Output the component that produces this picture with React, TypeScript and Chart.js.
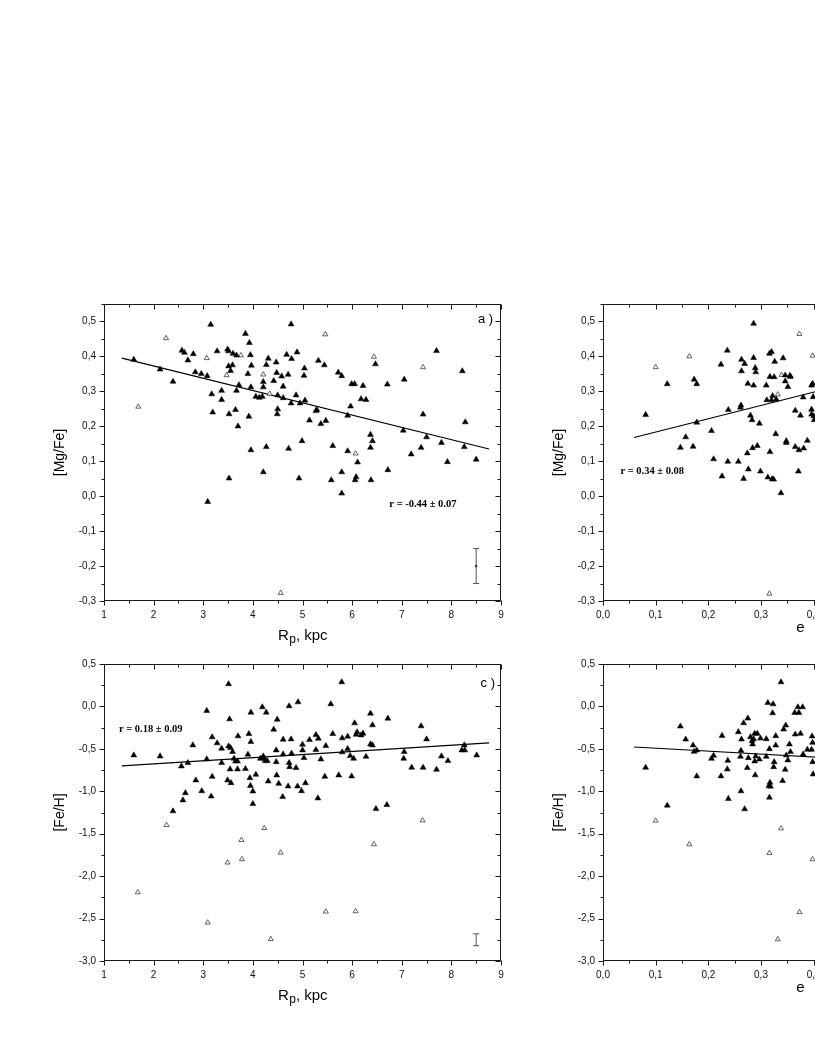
import React, { useEffect, useRef } from "react";
import { Chart, registerables } from "chart.js";

Chart.register(...registerables);

const SANS = '"Liberation Sans", Arial, Helvetica, sans-serif';
const SERIF = '"Liberation Serif", "Times New Roman", serif';

// ---------- Panel a: Rp (kpc) vs [Mg/Fe] ----------
const aFilled: number[][] = [
  [1.6, 0.391], [2.13, 0.363], [2.39, 0.328], [2.57, 0.417], [2.62, 0.411], [2.69, 0.389], [2.8, 0.407],
  [2.84, 0.355], [2.96, 0.35], [3.08, 0.344], [3.15, 0.491], [3.17, 0.292], [3.19, 0.24], [3.28, 0.415],
  [3.37, 0.302], [3.37, 0.276], [3.49, 0.42], [3.51, 0.415], [3.52, 0.235], [3.51, 0.372], [3.55, 0.359],
  [3.59, 0.375], [3.6, 0.408], [3.65, 0.247], [3.67, 0.403], [3.67, 0.302], [3.7, 0.2], [3.72, 0.318],
  [3.85, 0.465], [3.9, 0.35], [3.92, 0.228], [3.93, 0.439], [3.95, 0.404], [3.96, 0.132], [3.97, 0.374],
  [3.96, 0.312], [4.06, 0.285], [4.13, 0.282], [4.19, 0.285], [4.21, 0.312], [4.21, 0.327], [4.27, 0.141],
  [4.27, 0.376], [4.31, 0.394], [4.42, 0.33], [4.47, 0.383], [4.48, 0.353], [4.5, 0.289], [4.5, 0.249],
  [4.49, 0.235], [4.58, 0.343], [4.61, 0.314], [4.61, 0.281], [4.71, 0.348], [4.72, 0.136], [4.68, 0.405],
  [4.77, 0.492], [4.78, 0.393], [4.87, 0.289], [4.89, 0.412], [4.77, 0.266], [4.95, 0.266], [4.99, 0.158],
  [5.04, 0.366], [5.03, 0.345], [5.05, 0.274], [5.32, 0.388], [5.44, 0.375], [5.14, 0.217], [5.27, 0.244],
  [5.29, 0.247], [5.37, 0.207], [5.47, 0.216], [5.61, 0.144], [5.72, 0.354], [5.79, 0.344], [5.91, 0.231],
  [5.97, 0.257], [5.91, 0.129], [5.99, 0.321], [6.05, 0.321], [6.22, 0.316], [6.18, 0.278], [6.28, 0.276],
  [6.37, 0.176], [6.41, 0.158], [6.37, 0.139], [6.47, 0.378], [6.71, 0.32], [7.05, 0.334], [7.03, 0.188],
  [7.19, 0.12], [7.39, 0.139], [7.43, 0.234], [7.5, 0.169], [7.7, 0.416], [7.8, 0.153], [8.22, 0.358],
  [8.26, 0.141], [8.28, 0.212], [3.09, -0.016], [3.52, 0.051], [4.21, 0.069], [4.93, 0.051], [5.58, 0.046],
  [5.79, 0.069], [5.79, 0.008], [6.11, 0.097], [6.06, 0.046], [6.08, 0.055], [6.38, 0.046], [6.72, 0.075],
  [7.92, 0.098], [8.5, 0.105],
];
const aOpen: number[][] = [
  [1.69, 0.256], [2.25, 0.452], [3.07, 0.395], [3.47, 0.346], [3.76, 0.403], [4.21, 0.348], [4.34, 0.293],
  [5.46, 0.463], [6.44, 0.399], [7.43, 0.369], [6.07, 0.122], [4.56, -0.277],
];
const aFit: number[][] = [[1.36, 0.395], [8.76, 0.135]];
const aErr: number[] = [8.5, -0.2, 0.05];

// ---------- Panel b: e vs [Mg/Fe] ----------
const bFilled: number[][] = [
  [0.081, 0.233], [0.122, 0.321], [0.147, 0.139], [0.157, 0.169], [0.171, 0.142], [0.173, 0.334], [0.178, 0.321],
  [0.178, 0.211], [0.206, 0.187], [0.21, 0.106], [0.224, 0.377], [0.226, 0.057], [0.236, 0.417], [0.237, 0.099],
  [0.238, 0.247], [0.257, 0.099], [0.262, 0.26], [0.261, 0.254], [0.263, 0.391], [0.263, 0.358], [0.269, 0.379],
  [0.267, 0.05], [0.274, 0.123], [0.276, 0.077], [0.275, 0.322], [0.28, 0.231], [0.283, 0.218], [0.284, 0.138],
  [0.286, 0.396], [0.286, 0.317], [0.289, 0.367], [0.29, 0.355], [0.286, 0.494], [0.293, 0.144], [0.297, 0.208],
  [0.299, 0.071], [0.31, 0.317], [0.311, 0.275], [0.313, 0.054], [0.316, 0.408], [0.317, 0.127], [0.317, 0.342],
  [0.32, 0.275], [0.32, 0.413], [0.321, 0.049], [0.324, 0.048], [0.325, 0.341], [0.322, 0.287], [0.326, 0.385],
  [0.329, 0.277], [0.328, 0.178], [0.338, 0.009], [0.342, 0.395], [0.346, 0.346], [0.346, 0.329], [0.348, 0.153],
  [0.348, 0.158], [0.351, 0.313], [0.355, 0.345], [0.356, 0.342], [0.365, 0.245], [0.365, 0.141], [0.371, 0.071],
  [0.372, 0.132], [0.375, 0.231], [0.38, 0.283], [0.381, 0.137], [0.388, 0.159], [0.396, 0.248], [0.396, 0.234],
  [0.396, 0.317], [0.398, 0.322], [0.399, 0.284], [0.401, 0.218], [0.4, 0.229],
];
const bOpen: number[][] = [
  [0.1, 0.369], [0.164, 0.4], [0.316, -0.279], [0.339, 0.347], [0.332, 0.291], [0.373, 0.464], [0.398, 0.402],
];
const bFit: number[][] = [[0.059, 0.168], [0.7, 0.412]];

// ---------- Panel c: Rp (kpc) vs [Fe/H] ----------
const cFilled: number[][] = [
  [1.6, -0.575], [2.13, -0.587], [2.56, -0.705], [2.69, -0.665], [2.79, -0.457], [2.85, -0.87], [3.07, -0.051],
  [3.07, -0.622], [3.18, -0.362], [3.18, -0.827], [3.28, -0.433], [3.37, -0.496], [3.37, -0.665], [3.49, -0.87],
  [3.51, 0.264], [3.53, -0.15], [3.51, -0.469], [3.55, -0.488], [3.59, -0.535], [3.62, -0.614], [3.65, -0.646],
  [3.7, -0.35], [3.69, -0.646], [3.69, -0.74], [3.54, -0.74], [3.85, -0.736], [3.92, -0.323], [3.96, -0.417],
  [3.96, -0.071], [3.9, -0.567], [3.94, -0.843], [4.06, -0.803], [4.15, -0.614], [4.19, -0.008], [4.22, -0.614],
  [4.27, -0.071], [4.21, -0.587], [4.25, -0.642], [4.29, -0.642], [4.31, -0.882], [4.42, -0.272], [4.47, -0.516],
  [4.47, -0.654], [4.48, -0.811], [4.49, -0.154], [4.61, -0.39], [4.61, -0.563], [4.73, -0.665], [4.73, 0.004],
  [4.77, -0.386], [4.78, -0.555], [4.74, -0.713], [4.87, -0.724], [4.91, 0.051], [5.0, -0.449], [5.0, -0.516],
  [5.03, -0.606], [5.14, -0.394], [5.27, -0.335], [5.32, -0.378], [5.27, -0.512], [5.37, -0.622], [5.45, -0.827],
  [5.47, -0.465], [5.57, 0.028], [5.61, -0.323], [5.73, -0.811], [5.79, 0.287], [5.8, -0.374], [5.8, -0.539],
  [5.91, -0.354], [5.91, -0.5], [5.96, -0.583], [5.99, -0.823], [6.03, -0.614], [6.05, -0.197], [6.08, -0.331],
  [6.1, -0.303], [6.18, -0.339], [6.22, -0.319], [6.28, -0.591], [6.37, -0.083], [6.41, -0.22], [6.37, -0.445],
  [6.41, -0.457], [6.72, -0.142], [7.05, -0.535], [7.04, -0.614], [7.2, -0.72], [7.39, -0.232], [7.43, -0.72],
  [7.5, -0.386], [7.7, -0.744], [7.8, -0.587], [7.93, -0.642], [8.21, -0.516], [8.26, -0.457], [8.27, -0.516],
  [8.51, -0.575], [2.39, -1.234], [2.59, -1.105], [2.64, -1.02], [2.97, -0.996], [3.16, -1.059], [3.56, -0.902],
  [3.95, -0.934], [4.0, -1.0], [4.0, -1.148], [4.52, -0.91], [4.6, -1.066], [4.71, -0.941], [4.9, -0.941],
  [4.98, -0.996], [5.06, -0.902], [5.31, -1.082], [6.48, -1.207], [6.7, -1.16],
];
const cOpen: number[][] = [
  [2.26, -1.398], [1.68, -2.191], [3.09, -2.547], [3.49, -1.84], [3.77, -1.574], [3.78, -1.801], [4.23, -1.434],
  [4.36, -2.742], [4.56, -1.723], [5.47, -2.418], [6.07, -2.414], [6.44, -1.625], [7.42, -1.344],
];
const cFit: number[][] = [[1.36, -0.7], [8.76, -0.43]];
const cErr: number[] = [8.5, -2.75, 0.07];

// ---------- Panel d: e vs [Fe/H] ----------
const dFilled: number[][] = [
  [0.081, -0.72], [0.122, -1.167], [0.147, -0.235], [0.157, -0.388], [0.171, -0.458], [0.173, -0.532],
  [0.178, -0.517], [0.178, -0.822], [0.206, -0.615], [0.21, -0.58], [0.224, -0.822], [0.226, -0.345],
  [0.236, -0.74], [0.237, -0.638], [0.238, -1.088], [0.257, -0.301], [0.261, -0.591], [0.262, -0.521],
  [0.263, -0.388], [0.262, -0.998], [0.267, -0.196], [0.269, -1.21], [0.274, -0.724], [0.275, -0.141],
  [0.276, -0.607], [0.28, -0.36], [0.283, -0.407], [0.284, -0.446], [0.286, -0.384], [0.288, -0.321],
  [0.288, -0.646], [0.289, -0.81], [0.29, -0.587], [0.293, -0.321], [0.297, -0.623], [0.299, -0.376],
  [0.31, -0.384], [0.31, -0.591], [0.313, 0.043], [0.316, -0.501], [0.315, -0.936], [0.316, -1.073],
  [0.317, -0.897], [0.318, -0.944], [0.322, -0.078], [0.323, 0.027], [0.324, -0.713], [0.325, -0.654],
  [0.328, -0.458], [0.328, -0.348], [0.338, 0.286], [0.341, -0.877], [0.343, -0.27], [0.346, -0.744],
  [0.347, -0.223], [0.348, -0.576], [0.351, -0.634], [0.354, -0.446], [0.356, -0.536], [0.364, -0.074],
  [0.365, -0.329], [0.37, -0.008], [0.372, -0.074], [0.375, -0.321], [0.379, -0.008], [0.38, -0.564],
  [0.388, -0.509], [0.396, -0.509], [0.397, -0.352], [0.398, -0.654], [0.399, -0.799], [0.398, -0.427],
];
const dOpen: number[][] = [
  [0.1, -1.347], [0.164, -1.625], [0.316, -1.727], [0.338, -1.437], [0.332, -2.745], [0.373, -2.424],
  [0.398, -1.801],
];
const dFit: number[][] = [[0.059, -0.478], [0.7, -0.7]];

// ---------- tick / label definitions ----------
const rpRange = [1, 9, 0.5, 1, 0];       // min, max, step, major, decimals
const eRange = [0, 0.75, 0.05, 0.1, 1];
const mgfeRange = [-0.3, 0.55, 0.05, 0.1, 1];
const fehRange = [-3, 0.5, 0.25, 0.5, 1];

type Txt = { x: number; y: number; text: string; font: string; align: CanvasTextAlign };
type PanelDef = {
  left: number; top: number; width: number; height: number; xAxisH: number;
  xr: number[]; yr: number[];
  xTitle: "Rp" | "e"; yTitle: string;
  filled: number[][]; open: number[][]; fit: number[][];
  err?: number[]; errDot?: boolean;
  texts: Txt[];
};

const isMajor = (v: number, major: number) => Math.abs(v / major - Math.round(v / major)) < 1e-6;
const fmt = (v: number, major: number, digits: number) => {
  if (!isMajor(v, major)) return "";
  let r = Math.round(v / major) * major;
  if (Math.abs(r) < 1e-9) r = 0;
  return r.toFixed(digits).replace(".", ",");
};

const RFONT = `bold 10.5px ${SERIF}`;
const PFONT = `13px ${SANS}`;

const panels: PanelDef[] = [
  {
    left: 44, top: 290, width: 470, height: 375, xAxisH: 64,
    xr: rpRange, yr: mgfeRange, xTitle: "Rp", yTitle: "[Mg/Fe]",
    filled: aFilled, open: aOpen, fit: aFit, err: aErr, errDot: true,
    texts: [
      { x: 6.75, y: -0.024, text: "r = -0.44 \u00b1 0.07", font: RFONT, align: "left" },
      { x: 8.84, y: 0.506, text: "a )", font: PFONT, align: "right" },
    ],
  },
  {
    left: 543, top: 290, width: 468, height: 375, xAxisH: 64,
    xr: eRange, yr: mgfeRange, xTitle: "e", yTitle: "[Mg/Fe]",
    filled: bFilled, open: bOpen, fit: bFit,
    texts: [
      { x: 0.033, y: 0.07, text: "r = 0.34 \u00b1 0.08", font: RFONT, align: "left" },
      { x: 0.731, y: 0.506, text: "b )", font: PFONT, align: "right" },
    ],
  },
  {
    left: 44, top: 650, width: 470, height: 372, xAxisH: 61,
    xr: rpRange, yr: fehRange, xTitle: "Rp", yTitle: "[Fe/H]",
    filled: cFilled, open: cOpen, fit: cFit, err: cErr,
    texts: [
      { x: 1.3, y: -0.273, text: "r = 0.18 \u00b1 0.09", font: RFONT, align: "left" },
      { x: 8.88, y: 0.27, text: "c )", font: PFONT, align: "right" },
    ],
  },
  {
    left: 543, top: 650, width: 468, height: 372, xAxisH: 61,
    xr: eRange, yr: fehRange, xTitle: "e", yTitle: "[Fe/H]",
    filled: dFilled, open: dOpen, fit: dFit,
    texts: [{ x: 0.735, y: 0.27, text: "d )", font: PFONT, align: "right" }],
  },
];

const framePlugin = (d: PanelDef) => ({
  id: "frameDecor",
  afterDraw(chart: any) {
    const { ctx, chartArea } = chart;
    const { left, top, right, bottom } = chartArea;
    const xs = chart.scales.x;
    const ys = chart.scales.y;
    ctx.save();
    ctx.strokeStyle = "#1a1a1a";
    ctx.lineWidth = 1;
    const L = Math.round(left) + 0.5, R = Math.round(right) - 0.5;
    const T = Math.round(top) + 0.5, B = Math.round(bottom) - 0.5;
    ctx.strokeRect(L, T, R - L, B - T);
    ctx.beginPath();
    xs.ticks.forEach((t: any) => {
      const px = Math.round(xs.getPixelForValue(t.value)) + 0.5;
      const len = t.label ? 5 : 3;
      ctx.moveTo(px, B); ctx.lineTo(px, B + len);
      ctx.moveTo(px, T); ctx.lineTo(px, T + len);
    });
    ys.ticks.forEach((t: any) => {
      const py = Math.round(ys.getPixelForValue(t.value)) + 0.5;
      const len = t.label ? 5 : 3;
      ctx.moveTo(L, py); ctx.lineTo(L - len, py);
      ctx.moveTo(R, py); ctx.lineTo(R - len, py);
    });
    ctx.stroke();

    ctx.fillStyle = "#000";
    // y title
    ctx.save();
    ctx.translate(left - 44, (top + bottom) / 2);
    ctx.rotate(-Math.PI / 2);
    ctx.font = `14px ${SANS}`;
    ctx.textAlign = "center";
    ctx.textBaseline = "middle";
    ctx.fillText(d.yTitle, 0, 0);
    ctx.restore();

    // x title
    const cx = (left + right) / 2;
    ctx.textBaseline = "alphabetic";
    ctx.textAlign = "left";
    if (d.xTitle === "Rp") {
      const big = `15px ${SANS}`;
      const small = `12px ${SANS}`;
      const base = bottom + 39;
      ctx.font = big;
      const wR = ctx.measureText("R").width;
      const wRest = ctx.measureText(", kpc").width;
      ctx.font = small;
      const wp = ctx.measureText("p").width;
      let x = cx - (wR + wp + wRest) / 2;
      ctx.font = big; ctx.fillText("R", x, base); x += wR + 0.5;
      ctx.font = small; ctx.fillText("p", x, base + 3); x += wp;
      ctx.font = big; ctx.fillText(", kpc", x, base);
    } else {
      ctx.font = `15px ${SANS}`;
      ctx.textAlign = "center";
      ctx.fillText("e", cx, bottom + 31);
    }

    // annotations
    d.texts.forEach((t) => {
      ctx.font = t.font;
      ctx.textAlign = t.align;
      ctx.textBaseline = "middle";
      ctx.fillText(t.text, xs.getPixelForValue(t.x), ys.getPixelForValue(t.y));
    });
    ctx.restore();
  },
});

function Panel({ d }: { d: PanelDef }) {
  const ref = useRef<HTMLCanvasElement | null>(null);
  useEffect(() => {
    if (!ref.current) return;
    const pts = (a: number[][]) => a.map(([x, y]) => ({ x, y }));
    const datasets: any[] = [
      {
        data: pts(d.filled), pointStyle: "triangle", pointRadius: 3.4,
        pointBackgroundColor: "#000", pointBorderColor: "#000", pointBorderWidth: 0.5, showLine: false,
      },
      {
        data: pts(d.open), pointStyle: "triangle", pointRadius: 2.9,
        pointBackgroundColor: "#fff", pointBorderColor: "#222", pointBorderWidth: 0.7, showLine: false,
      },
      {
        data: pts(d.fit), showLine: true, borderColor: "#000", borderWidth: 1.2, pointRadius: 0,
      },
    ];
    if (d.err) {
      const [ex, ey, eh] = d.err;
      datasets.push({
        data: [{ x: ex, y: ey - eh }, { x: ex, y: ey + eh }], showLine: true,
        borderColor: "#555", borderWidth: 1, pointStyle: "line", pointRadius: 3,
        pointBorderColor: "#555", pointBorderWidth: 1,
      });
      if (d.errDot) {
        datasets.push({
          data: [{ x: ex, y: ey }], pointStyle: "circle", pointRadius: 1.2,
          pointBackgroundColor: "#000", pointBorderColor: "#000", pointBorderWidth: 0,
        });
      }
    }
    const [xmin, xmax, xstep, xmaj, xdig] = d.xr;
    const [ymin, ymax, ystep, ymaj, ydig] = d.yr;
    const chart = new Chart(ref.current, {
      type: "scatter",
      data: { datasets },
      options: {
        responsive: false,
        animation: false,
        events: [],
        layout: { padding: { left: 0, top: 12, right: 13, bottom: 0 } },
        plugins: { legend: { display: false }, tooltip: { enabled: false } },
        scales: {
          x: {
            type: "linear", position: "bottom", min: xmin, max: xmax,
            grid: { display: false, drawTicks: false }, border: { display: false },
            ticks: {
              stepSize: xstep, autoSkip: false, maxRotation: 0, padding: 8, color: "#111",
              font: { size: 10, family: SANS },
              callback: (v: any) => fmt(Number(v), xmaj, xdig),
            },
            afterFit: (s: any) => { s.height = d.xAxisH; },
          },
          y: {
            type: "linear", position: "left", min: ymin, max: ymax,
            grid: { display: false, drawTicks: false }, border: { display: false },
            ticks: {
              stepSize: ystep, autoSkip: false, padding: 8, color: "#111",
              font: { size: 10, family: SANS },
              callback: (v: any) => fmt(Number(v), ymaj, ydig),
            },
            afterFit: (s: any) => { s.width = 60; },
          },
        },
      } as any,
      plugins: [framePlugin(d) as any],
    });
    return () => chart.destroy();
  }, [d]);
  return (
    <canvas
      ref={ref}
      width={d.width}
      height={d.height}
      style={{ position: "absolute", left: d.left, top: d.top, width: d.width, height: d.height, display: "block" }}
    />
  );
}

export default function App() {
  return (
    <div
      style={{
        position: "absolute", left: 0, top: 0, width: 815, height: 1055,
        overflow: "hidden", background: "#fff",
      }}
    >
      {panels.map((p, i) => (
        <Panel key={i} d={p} />
      ))}
    </div>
  );
}
